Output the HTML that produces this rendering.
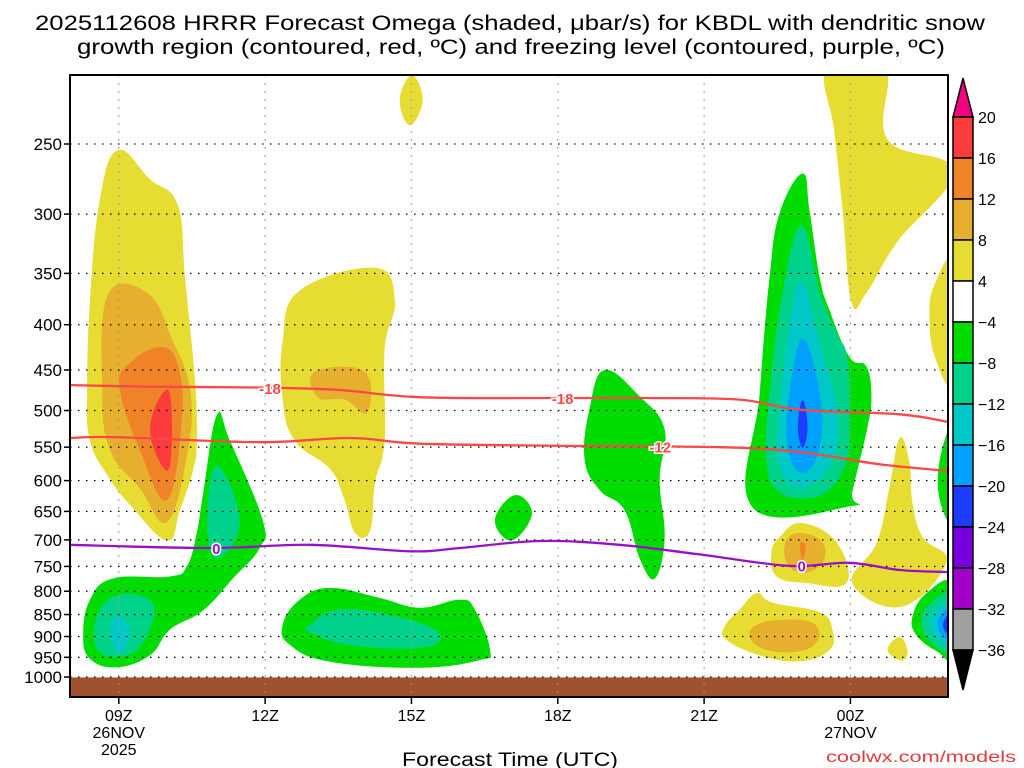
<!DOCTYPE html>
<html><head><meta charset="utf-8">
<style>
html,body{margin:0;padding:0;background:#fff;}
svg{display:block;font-family:"Liberation Sans",sans-serif;}
</style></head>
<body>
<svg id="chart" width="1024" height="768" viewBox="0 0 1024 768" xmlns="http://www.w3.org/2000/svg">
<defs><clipPath id="plotclip"><rect x="70" y="75" width="878" height="622"/></clipPath></defs>
<text x="510" y="30" font-size="21" text-anchor="middle" textLength="950" lengthAdjust="spacingAndGlyphs">2025112608 HRRR Forecast Omega (shaded, μbar/s) for KBDL with dendritic snow</text>
<text x="511" y="54" font-size="21" text-anchor="middle" textLength="868" lengthAdjust="spacingAndGlyphs">growth region (contoured, red, ºC) and freezing level (contoured, purple, ºC)</text>
<g id="fills" clip-path="url(#plotclip)"></g>
<g id="grid" clip-path="url(#plotclip)"></g>
<g id="lines" clip-path="url(#plotclip)"></g>
<rect x="70" y="75" width="878" height="622" fill="none" stroke="#000" stroke-width="2"/>
<g id="axes"></g>
<g id="cbar"></g>
<text x="510" y="766" font-size="19" text-anchor="middle" textLength="216" lengthAdjust="spacingAndGlyphs">Forecast Time (UTC)</text>
<text x="1016" y="762" font-size="16" text-anchor="end" fill="#e03c3c" textLength="190" lengthAdjust="spacingAndGlyphs">coolwx.com/models</text>
</svg>
<script>
// ---- data ----
const pLevels=[250,300,350,400,450,500,550,600,650,700,750,800,850,900,950,1000];
const hourTicks=[9,12,15,18,21,24];
const hourLabels=["09Z","12Z","15Z","18Z","21Z","00Z"];
const dateLabels=["26NOV\n2025","","","","","27NOV"];
const cbarLevels=[20,16,12,8,4,-4,-8,-12,-16,-20,-24,-28,-32,-36];
const cbarColors=["#fa3c3c","#f08228","#e6af2d","#e6dc32","#ffffff","#00dc00","#00d28c","#00c8c8","#00a0ff","#1e3cff","#7800dc","#a000c8","#a0a0a0"];
const surfaceP=1001;
const C={y:"#e6dc32",g:"#e6af2d",o:"#f08228",r:"#fa3c3c",G:"#00dc00",t:"#00d28c",c:"#00c8c8",l:"#00a0ff",b:"#1e3cff",p:"#7800dc"};
// omega blobs: [colorKey, [[hour,hPa],...]]
const blobs=[
["y",[[8.98,254],[9.64,274],[10.21,293],[10.36,355],[10.56,461],[10.60,541],[10.52,585],[10.25,648],[9.99,701],[9.23,639],[8.76,591],[8.41,541],[8.35,478],[8.41,375],[8.61,289]]],
["g",[[8.78,370],[9.60,369],[10.09,415],[10.46,473],[10.42,554],[9.99,668],[9.43,612],[8.82,554],[8.66,473]]],
["o",[[9.84,424],[10.21,444],[10.29,513],[9.99,631],[9.43,554],[9.02,473],[9.19,444]]],
["r",[[9.99,473],[10.09,525],[9.99,585],[9.64,525]]],
["y",[[14.25,345],[14.66,375],[14.45,427],[14.45,541],[14.25,604],[14.15,684],[13.84,687],[13.63,631],[13.33,582],[12.61,541],[12.36,486],[12.36,417],[12.71,366]]],
["g",[[13.02,452],[14.04,452],[14.09,503],[13.63,486],[13.08,483]]],
["y",[[15.01,209],[15.23,223],[14.97,238],[14.76,223]]],
["G",[[11.01,506],[11.28,541],[11.95,665],[11.89,715],[11.34,774],[10.73,841],[10.05,884],[9.64,945],[8.96,975],[8.41,954],[8.27,896],[8.41,818],[8.88,774],[10.05,770],[10.40,749],[10.60,687],[10.73,620]]],
["t",[[11.01,577],[11.48,668],[11.01,735],[10.81,665]]],
["t",[[8.98,808],[9.68,824],[9.58,896],[9.17,945],[8.57,932],[8.55,855]]],
["c",[[8.98,851],[9.23,890],[9.02,938],[8.82,890]]],
["G",[[12.36,873],[12.71,818],[13.33,793],[14.35,814],[15.17,835],[15.99,818],[16.30,839],[16.61,932],[16.40,957],[15.17,976],[13.33,961],[12.51,920]]],
["t",[[12.92,873],[13.53,839],[14.76,856],[15.58,894],[15.17,927],[13.74,920],[12.92,890]]],
["G",[[16.71,665],[17.12,623],[17.47,654],[17.06,701]]],
["G",[[18.96,450],[19.68,482],[20.19,525],[20.09,598],[20.19,698],[19.99,774],[19.68,735],[19.37,648],[18.86,615],[18.55,568],[18.65,498]]],
["G",[[23.02,270],[23.16,297],[23.37,354],[23.57,385],[23.98,435],[24.33,446],[24.43,482],[24.35,522],[24.04,618],[24.02,641],[21.99,643],[22.14,478],[22.34,354],[22.55,299]]],
["t",[[23.0,309],[23.37,368],[23.72,409],[23.94,438],[23.98,522],[23.92,569],[23.57,614],[23.02,628],[22.49,614],[22.28,569],[22.34,478],[22.61,368]]],
["c",[[23.0,358],[23.37,420],[23.72,499],[23.63,569],[23.02,611],[22.55,578],[22.55,499],[22.75,402]]],
["l",[[23.02,415],[23.37,478],[23.37,550],[23.02,588],[22.71,550],[22.75,478]]],
["b",[[23.02,486],[23.12,522],[23.02,551],[22.92,522]]],
["y",[[23.53,205],[24.70,205],[24.76,247],[26.1,268],[24.95,323],[24.33,368],[24.02,377],[23.84,297],[23.67,242]]],
["y",[[26.1,342],[25.72,361],[25.62,390],[25.72,433],[26.1,464]]],
["G",[[26.1,525],[25.83,569],[25.83,631],[26.1,661]]],
["y",[[25.01,537],[25.21,573],[25.27,635],[25.48,695],[25.97,742],[25.05,833],[24.04,783],[24.54,705],[24.80,610]]],
["y",[[23.0,670],[23.72,705],[23.92,783],[23.10,783],[22.49,770],[22.38,724],[22.55,695]]],
["g",[[22.69,700],[23.02,688],[23.43,705],[23.43,742],[23.02,763],[22.69,742]]],
["o",[[23.0,705],[23.08,712],[23.02,737],[22.96,712]]],
["y",[[22.08,804],[22.40,824],[23.37,845],[23.63,884],[23.57,932],[22.96,960],[22.14,945],[21.46,908],[21.42,877],[21.73,839]]],
["g",[[21.93,898],[22.20,868],[22.96,862],[23.31,877],[23.31,912],[22.96,935],[22.28,932]]],
["y",[[25.01,901],[25.17,935],[25.05,958],[24.76,932]]],
["G",[[26.1,787],[25.56,804],[25.27,855],[25.36,898],[25.77,935],[26.1,945]]],
["t",[[26.1,808],[25.62,828],[25.46,866],[25.62,910],[26.1,933]]],
["c",[[26.1,824],[25.72,843],[25.62,873],[25.77,905],[26.1,916]]],
["l",[[26.1,833],[25.83,855],[25.79,877],[25.89,898],[26.1,905]]],
["b",[[26.1,843],[25.91,866],[25.95,890],[26.1,894]]]
];
const dgzTop=[[8,468],[9.64,470],[11.89,471],[13.53,474],[15.17,483],[18.04,484],[19.89,484],[21.73,486],[22.96,499],[25.01,505],[26.0,515]];
const dgzBot=[[8,537],[8.98,536],[11.89,543],[13.74,537],[15.17,545],[18.04,548],[21.32,550],[22.96,557],[24.60,575],[26.0,585]];
const frz=[[8,709],[10.87,715],[12.92,709],[14.97,721],[15.99,715],[17.63,702],[19.27,709],[20.91,727],[22.75,749],[23.98,743],[25.01,757],[25.99,761]];
// ---- scales ----
const X0=70,X1=948,Y0=75,Y1=697,H0=8,H1=26;
const PTOP=250*Math.exp(-(144-75)/384.5);
const k=384.5;
function xs(h){return X0+(h-H0)*(X1-X0)/(H1-H0);}
function ys(p){return Y0+Math.log(p/PTOP)*k;}
const NS="http://www.w3.org/2000/svg";
function mk(tag,attrs,parent){const e=document.createElementNS(NS,tag);for(const a in attrs)e.setAttribute(a,attrs[a]);parent.appendChild(e);return e;}
function closedPath(pts){
 const P=pts.map(d=>[xs(d[0]),ys(d[1])]);const n=P.length;let s="M"+P[0][0].toFixed(1)+","+P[0][1].toFixed(1);
 for(let i=0;i<n;i++){const p0=P[(i-1+n)%n],p1=P[i],p2=P[(i+1)%n],p3=P[(i+2)%n];const t=0.2;
  s+=" C"+(p1[0]+(p2[0]-p0[0])*t).toFixed(1)+","+(p1[1]+(p2[1]-p0[1])*t).toFixed(1)+" "+(p2[0]-(p3[0]-p1[0])*t).toFixed(1)+","+(p2[1]-(p3[1]-p1[1])*t).toFixed(1)+" "+p2[0].toFixed(1)+","+p2[1].toFixed(1);}
 return s+"Z";}
function openPath(pts){
 const P=pts.map(d=>[xs(d[0]),ys(d[1])]);let s="M"+P[0][0].toFixed(1)+","+P[0][1].toFixed(1);
 for(let i=0;i<P.length-1;i++){const p0=P[Math.max(i-1,0)],p1=P[i],p2=P[i+1],p3=P[Math.min(i+2,P.length-1)];const t=0.17;
  s+=" C"+(p1[0]+(p2[0]-p0[0])*t).toFixed(1)+","+(p1[1]+(p2[1]-p0[1])*t).toFixed(1)+" "+(p2[0]-(p3[0]-p1[0])*t).toFixed(1)+","+(p2[1]-(p3[1]-p1[1])*t).toFixed(1)+" "+p2[0].toFixed(1)+","+p2[1].toFixed(1);}
 return s;}
const fills=document.getElementById("fills");
blobs.forEach((b,i)=>{const e=mk("path",{d:closedPath(b[1]),fill:C[b[0]]},fills);

});
const ground=mk("rect",{x:X0,y:ys(surfaceP),width:X1-X0,height:Y1-ys(surfaceP)+2,fill:"#a0522d"},fills);


const grid=document.getElementById("grid"),axes=document.getElementById("axes");
pLevels.forEach(p=>{const y=ys(p);
 const g=mk("line",{x1:X0,x2:X1,y1:y,y2:y,stroke:"#000","stroke-width":1.3,"stroke-dasharray":"1.5 6.5"},grid);
 
 
 const t=mk("line",{x1:X0-6,x2:X0,y1:y,y2:y,stroke:"#000","stroke-width":1.5},axes);
 
 
 const l=mk("text",{x:62,y:y+6,"font-size":17,"text-anchor":"end"},axes);l.textContent=p;
 
 });
hourTicks.forEach((h,i)=>{const x=xs(h);
 const g=mk("line",{x1:x,x2:x,y1:Y0,y2:Y1,stroke:"#999","stroke-width":1.3,"stroke-dasharray":"1.5 6.5"},grid);
 
 
 const t=mk("line",{x1:x,x2:x,y1:Y1,y2:Y1+7,stroke:"#000","stroke-width":1.5},axes);
 
 
 const l=mk("text",{x:x,y:721,"font-size":16,"text-anchor":"middle"},axes);l.textContent=hourLabels[i];
 
 
 dateLabels[i].split("\n").forEach((s,j)=>{if(!s)return;const d=mk("text",{x:x,y:738+j*17,"font-size":16,"text-anchor":"middle"},axes);d.textContent=s;
 
 });});
const lines=document.getElementById("lines");
function drawLine(pts,col,name,labels,txt){
 const e=mk("path",{d:openPath(pts),fill:"none",stroke:col,"stroke-width":2.3},lines);
 
 
 labels.forEach(h=>{let i=0;while(i<pts.length-2&&pts[i+1][0]<h)i++;const a=pts[i],b=pts[i+1];const f=(h-a[0])/(b[0]-a[0]);const p=a[1]+(b[1]-a[1])*f;
  const x=xs(h),y=ys(p);const w=txt.length*9+6;
  mk("rect",{x:x-w/2,y:y-8,width:w,height:16,fill:"#fff",opacity:0},lines);
  const t=mk("text",{x:x,y:y+6,"font-size":15,"font-weight":"bold","text-anchor":"middle",fill:col,stroke:"#fff","stroke-width":3,"paint-order":"stroke"},lines);t.textContent=txt;
  
  });}
drawLine(dgzTop,"#f84848","dgz-minus18-line",[12.1,18.1],"-18");
drawLine(dgzBot,"#f84848","dgz-minus12-line",[20.1],"-12");
drawLine(frz,"#9a10c8","freezing-level-line",[11.0,23.0],"0");
// colorbar
const cb=document.getElementById("cbar");const CBX=953,CBW=20,CBT=117,CBB=650;const step=(CBB-CBT)/(cbarLevels.length-1);
const tri=mk("polygon",{points:`${CBX},${CBT} ${CBX+CBW},${CBT} ${CBX+CBW/2},78`,fill:"#f00082",stroke:"#000","stroke-width":1.5},cb);


cbarColors.forEach((c,i)=>{const r=mk("rect",{x:CBX,y:CBT+i*step,width:CBW,height:step,fill:c,stroke:"#000","stroke-width":1.5},cb);
 
 });
const tri2=mk("polygon",{points:`${CBX},${CBB} ${CBX+CBW},${CBB} ${CBX+CBW/2},690`,fill:"#000",stroke:"#000","stroke-width":1.5},cb);


cbarLevels.forEach((v,i)=>{const t=mk("text",{x:978,y:CBT+i*step+6,"font-size":16},cb);t.textContent=v<0?"\u2212"+(-v):String(v);
 
 });
</script>
</body></html>
